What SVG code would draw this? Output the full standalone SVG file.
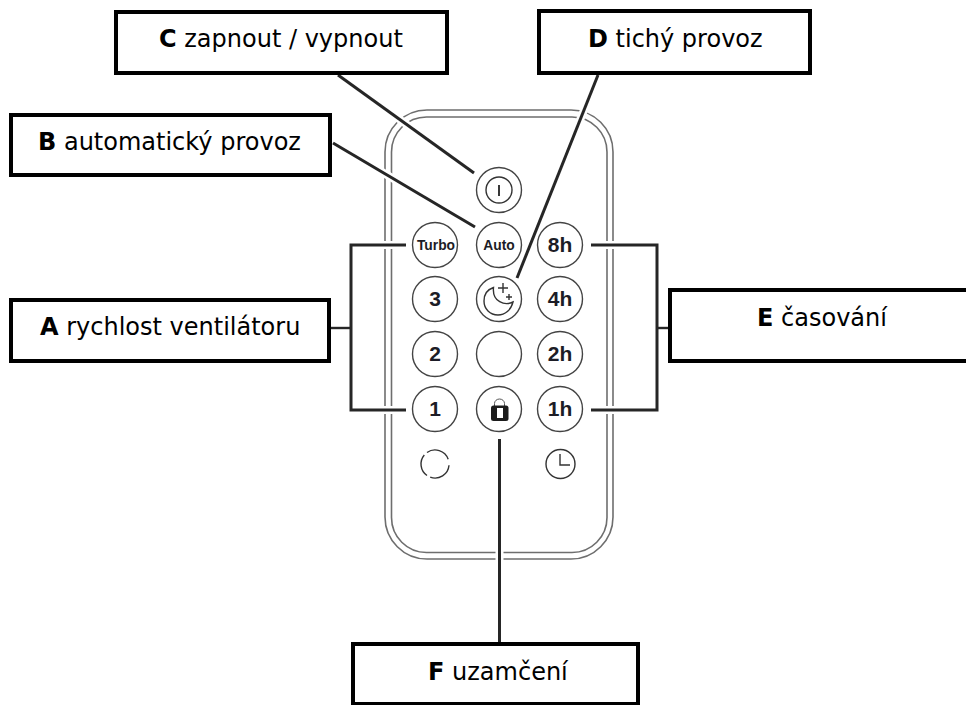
<svg xmlns="http://www.w3.org/2000/svg" width="966" height="705" viewBox="0 0 966 705">
<style>
.box{fill:#fff;stroke:#000;stroke-width:4}
.lbl{font-family:"DejaVu Sans",Verdana,sans-serif;font-size:24px;fill:#000}
.lbl .k{font-weight:700}
.shell{fill:none;stroke:#6e6e6e;stroke-width:1.6}
.btn{fill:#fff;stroke:#444;stroke-width:1.4}
.ic{fill:none;stroke:#333;stroke-width:1.4}
.num{font-family:"Liberation Sans",Arial,sans-serif;font-weight:700;fill:#1c1c26;text-anchor:middle;font-size:21px}
.sm{font-size:13.8px}
.halo{fill:none;stroke:#fff;stroke-width:8}
.ln{fill:none;stroke:#262626;stroke-width:3}
.thin{stroke-width:2.4}
</style>
<rect width="966" height="705" fill="#fff"/>
<g id="remote">
<rect class="shell" x="385" y="110" width="228" height="449" rx="42"/>
<rect class="shell" x="391.500" y="117" width="215.500" height="435.500" rx="35"/>
</g>
<g id="connectors">
<g class="halo">
<path d="M338 75L474 173"/><path d="M333 143L475 227"/><path d="M598 75L517 278"/>
<path d="M350 245H406M350 410H406"/><path d="M591 245H657M591 410H657"/><path d="M499.500 439V642"/>
</g>
<path class="ln" d="M338 75L474 173"/>
<path class="ln" d="M333 143L475 227"/>
<path class="ln" d="M598 75L517 278"/>
<path class="ln" d="M406 245H351V410H406"/>
<path class="ln thin" d="M330 328H351"/>
<path class="ln" d="M591 245H657V410H591"/>
<path class="ln thin" d="M657 328H669"/>
<path class="ln" d="M499.500 439V642"/>
</g>
<g id="btn-power"><circle class="btn" cx="499" cy="190" r="22.500"/><circle class="ic" cx="499" cy="190" r="13"/><path d="M499 185V196" stroke="#222" stroke-width="1.800" fill="none"/></g>
<g id="btn-turbo"><circle class="btn" cx="435" cy="245" r="22.500"/><text class="num sm" x="436" y="250">Turbo</text></g>
<g id="btn-auto"><circle class="btn" cx="499" cy="245" r="22.500"/><text class="num sm" x="499" y="250">Auto</text></g>
<g id="btn-8h"><circle class="btn" cx="560" cy="245" r="22.500"/><text class="num" x="560" y="252">8h</text></g>
<g id="btn-3"><circle class="btn" cx="435" cy="299" r="22.500"/><text class="num" x="435" y="306">3</text></g>
<g id="btn-moon"><circle class="btn" cx="499" cy="299" r="22.500"/><path class="ic" d="M493.500 287.500C486 290 484 296 484 301C484 309 490 315 498 315C505 315 511 310 513 302C505 306 492 302 493.500 287.500Z"/><path class="ic" d="M503 283V293M498 288H508M509 294V300M506 297H512"/></g>
<g id="btn-4h"><circle class="btn" cx="560" cy="299" r="22.500"/><text class="num" x="560" y="306">4h</text></g>
<g id="btn-2"><circle class="btn" cx="435" cy="354" r="22.500"/><text class="num" x="435" y="361">2</text></g>
<g id="btn-blank"><circle class="btn" cx="499" cy="354" r="22.500"/></g>
<g id="btn-2h"><circle class="btn" cx="560" cy="354" r="22.500"/><text class="num" x="560" y="361">2h</text></g>
<g id="btn-1"><circle class="btn" cx="435" cy="409" r="22.500"/><text class="num" x="435" y="416">1</text></g>
<g id="btn-lock"><circle class="btn" cx="499" cy="409" r="22.500"/><path d="M494.500 406V403.500A5 4.500 0 0 1 504.500 403.500V406" fill="none" stroke="#555" stroke-width="1"/><rect x="491" y="405.500" width="17.500" height="15.500" rx="2.500" fill="#1c1c1c"/><rect x="497" y="408" width="6" height="10" fill="#fff"/></g>
<g id="btn-1h"><circle class="btn" cx="560" cy="409" r="22.500"/><text class="num" x="560" y="416">1h</text></g>
<g id="icon-fan"><path class="ic" d="M427 452.500A14 14 0 0 1 448.200 459.200M449 465.200A14 14 0 0 1 430.200 477.200M427 475.500A14 14 0 0 1 424.300 455"/></g>
<g id="icon-clock"><circle class="ic" cx="560.500" cy="464" r="14.500"/><path class="ic" d="M560 454V465H570"/></g>
<g id="box-c"><rect class="box" x="116" y="12" width="331" height="61"/><text class="lbl" x="159" y="47"><tspan class="k">C</tspan> zapnout / vypnout</text></g>
<g id="box-b"><rect class="box" x="11" y="115" width="319" height="60"/><text class="lbl" x="38" y="150"><tspan class="k">B</tspan> automatický provoz</text></g>
<g id="box-a"><rect class="box" x="11" y="300" width="318" height="61"/><text class="lbl" x="40" y="335"><tspan class="k">A</tspan> rychlost ventilátoru</text></g>
<g id="box-d"><rect class="box" x="539" y="11" width="271" height="62"/><text class="lbl" x="588" y="47"><tspan class="k">D</tspan> tichý provoz</text></g>
<g id="box-e"><rect class="box" x="670" y="290" width="300" height="71"/><text class="lbl" x="757" y="326"><tspan class="k">E</tspan> časování</text></g>
<g id="box-f"><rect class="box" x="353" y="644" width="285" height="60"/><text class="lbl" x="428" y="680"><tspan class="k">F</tspan> uzamčení</text></g>
</svg>
